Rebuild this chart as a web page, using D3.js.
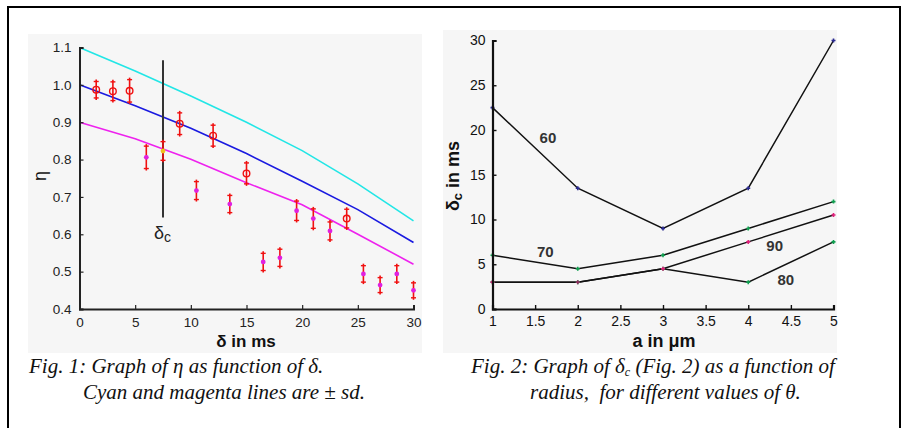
<!DOCTYPE html>
<html>
<head>
<meta charset="utf-8">
<script src="https://cdn.jsdelivr.net/npm/d3@7"></script>
<style>
  body { margin: 0; background: #fff; }
  svg text { font-family: "Liberation Sans", Arial, sans-serif; }
  .cap { font-family: "Liberation Serif", "Times New Roman", serif; font-style: italic; font-size: 21px; fill: #111; }
</style>
</head>
<body>
<div id="chart"></div>
<script>
// fig 1: eta vs delta
var lineDelta = [0, 5, 10, 15, 20, 25, 30];
var upperSd = [1.1, 1.037, 0.970, 0.900, 0.824, 0.735, 0.636];
var meanEta = [1.0, 0.944, 0.884, 0.816, 0.742, 0.666, 0.578];
var lowerSd = [0.9, 0.856, 0.801, 0.738, 0.679, 0.600, 0.52];

var pointDelta = [1.5, 3, 4.5, 6, 7.5, 9, 10.5, 12, 13.5, 15, 16.5, 18, 19.5, 21, 22.5, 24, 25.5, 27, 28.5, 30];
var pointEta = [0.987, 0.983, 0.984, 0.806, 0.823, 0.896, 0.717, 0.864, 0.681, 0.763, 0.526, 0.537, 0.663, 0.642, 0.609, 0.642, 0.494, 0.464, 0.494, 0.45];
var pointErr = [0.022, 0.025, 0.03, 0.03, 0.025, 0.029, 0.024, 0.028, 0.023, 0.028, 0.023, 0.023, 0.026, 0.026, 0.024, 0.025, 0.022, 0.02, 0.022, 0.02];
var pointKind = ['o', 'o', 'o', 'f', 'y', 'o', 'f', 'o', 'f', 'o', 'f', 'f', 'f', 'f', 'f', 'o', 'f', 'f', 'f', 'f'];
var deltaC = 7.5;
var deltaTicks = [0, 5, 10, 15, 20, 25, 30];
var etaTicks = [0.4, 0.5, 0.6, 0.7, 0.8, 0.9, 1.0, 1.1];

// fig 2: delta_c vs radius for theta
var radius = [1, 2, 3, 4, 5];
var theta60 = [22.5, 13.5, 9, 13.5, 30];
var theta70 = [6, 4.5, 6, 9, 12];
var theta80 = [3, 3, 4.5, 3, 7.5];
var theta90 = [3, 3, 4.5, 7.5, 10.5];
var thetaNames = ['60', '70', '80', '90'];
var radiusTicks = [1, 1.5, 2, 2.5, 3, 3.5, 4, 4.5, 5];
var dcTicks = [0, 5, 10, 15, 20, 25, 30];

var W = 903, H = 428;
var svg = d3.select('#chart').append('svg')
    .attr('width', W)
    .attr('height', H);

svg.append('rect')
    .attr('x', 8).attr('y', 7)
    .attr('width', 892).attr('height', 440)
    .attr('fill', 'none')
    .attr('stroke', '#000')
    .attr('stroke-width', 2);

// ---------- left panel ----------
svg.append('rect')
    .attr('x', 28).attr('y', 34)
    .attr('width', 394).attr('height', 319)
    .attr('fill', '#f6f6f6');

var x1 = d3.scaleLinear().domain([0, 30]).range([79.5, 413.5]);
var y1 = d3.scaleLinear().domain([0.4, 1.1]).range([309, 47.5]);

var g1 = svg.append('g');

var lineGen = d3.line()
    .x(function(d) { return x1(d[0]); })
    .y(function(d) { return y1(d[1]); });

[[upperSd, '#22e6e6'], [meanEta, '#1a1ae0'], [lowerSd, '#ee22ee']].forEach(function(s) {
    g1.append('path')
        .datum(lineDelta.map(function(d, i) { return [d, s[0][i]]; }))
        .attr('d', lineGen)
        .attr('fill', 'none')
        .attr('stroke', s[1])
        .attr('stroke-width', 1.6);
});

// delta_c marker
g1.append('line')
    .attr('x1', x1(deltaC)).attr('x2', x1(deltaC))
    .attr('y1', y1(1.066)).attr('y2', y1(0.645))
    .attr('stroke', '#333')
    .attr('stroke-width', 2);
var dcLabel = g1.append('text')
    .attr('x', x1(deltaC) - 9)
    .attr('y', 239)
    .attr('font-size', 18)
    .attr('fill', '#222');
dcLabel.append('tspan').text('δ');
dcLabel.append('tspan').attr('font-size', 14).attr('dy', 3).text('c');

var pts = pointDelta.map(function(d, i) {
    return { x: d, y: pointEta[i], e: pointErr[i], k: pointKind[i] };
});

var bars = g1.selectAll('g.pt')
    .data(pts)
    .enter()
    .append('g')
    .attr('class', 'pt');

bars.append('line')
    .attr('x1', function(d) { return x1(d.x); })
    .attr('x2', function(d) { return x1(d.x); })
    .attr('y1', function(d) { return y1(d.y + d.e) - 2; })
    .attr('y2', function(d) { return y1(d.y - d.e) + 2; })
    .attr('stroke', '#f01010')
    .attr('stroke-width', 1.6);
[1, -1].forEach(function(sgn) {
    bars.append('line')
        .attr('x1', function(d) { return x1(d.x) - 2.5; })
        .attr('x2', function(d) { return x1(d.x) + 2.5; })
        .attr('y1', function(d) { return y1(d.y + sgn * d.e); })
        .attr('y2', function(d) { return y1(d.y + sgn * d.e); })
        .attr('stroke', '#f01010')
        .attr('stroke-width', 1.4);
});
bars.filter(function(d) { return d.k == 'o'; })
    .append('circle')
    .attr('cx', function(d) { return x1(d.x); })
    .attr('cy', function(d) { return y1(d.y); })
    .attr('r', 3.3)
    .attr('fill', 'none')
    .attr('stroke', '#f01010')
    .attr('stroke-width', 1.4);
bars.filter(function(d) { return d.k != 'o'; })
    .append('circle')
    .attr('cx', function(d) { return x1(d.x); })
    .attr('cy', function(d) { return y1(d.y); })
    .attr('r', 2.4)
    .attr('fill', function(d) { return d.k == 'y' ? '#f0c020' : '#e020e0'; });

// axes
var ax1 = d3.axisBottom(x1).tickValues(deltaTicks).tickSize(-4).tickPadding(8);
var ay1 = d3.axisLeft(y1).tickValues(etaTicks).tickSize(-4).tickPadding(8).tickFormat(d3.format('.1f'));
[g1.append('g').attr('transform', 'translate(0,309)').call(ax1),
 g1.append('g').attr('transform', 'translate(79.5,0)').call(ay1)].forEach(function(a) {
    a.select('.domain').attr('stroke', '#222').attr('stroke-width', 2);
    a.selectAll('.tick line').attr('stroke', '#222').attr('stroke-width', 1.2);
    a.selectAll('.tick text').attr('font-size', 13.5).attr('fill', '#222')
        .attr('font-family', '"Liberation Sans", Arial, sans-serif');
});

g1.append('text')
    .attr('x', 246).attr('y', 347)
    .attr('text-anchor', 'middle')
    .attr('font-size', 17)
    .attr('font-weight', 'bold')
    .attr('fill', '#111')
    .text('δ in ms');
g1.append('text')
    .attr('transform', 'translate(46,176) rotate(-90)')
    .attr('text-anchor', 'middle')
    .attr('font-size', 18)
    .attr('fill', '#111')
    .text('η');

// ---------- right panel ----------
svg.append('rect')
    .attr('x', 443).attr('y', 30)
    .attr('width', 394).attr('height', 323)
    .attr('fill', '#f6f6f6');

var x2 = d3.scaleLinear().domain([1, 5]).range([492.5, 833.5]);
var y2 = d3.scaleLinear().domain([0, 30]).range([309, 40.5]);
var g2 = svg.append('g');

var lineGen2 = d3.line()
    .x(function(d) { return x2(d[0]); })
    .y(function(d) { return y2(d[1]); });

var series = [
    { vals: theta60, mark: ['#2a2a90', '#2a2a90', '#2a2a90', '#2a2a90', '#2a2a90'], label: thetaNames[0], lx: 1.65, ly: 19.1 },
    { vals: theta70, mark: ['#10a050', '#10a050', '#10a050', '#10a050', '#10a050'], label: thetaNames[1], lx: 1.62, ly: 6.4 },
    { vals: theta80, mark: ['#10a050', '#10a050', '#10a050', '#10a050', '#10a050'], label: thetaNames[2], lx: 4.44, ly: 3.25 },
    { vals: theta90, mark: ['#e0207a', '#903060', '#e0207a', '#e0207a', '#e0207a'], label: thetaNames[3], lx: 4.31, ly: 7.0 }
];

series.forEach(function(s) {
    g2.append('path')
        .datum(radius.map(function(r, i) { return [r, s.vals[i]]; }))
        .attr('d', lineGen2)
        .attr('fill', 'none')
        .attr('stroke', '#111')
        .attr('stroke-width', 1.5);
});
series.forEach(function(s) {
    g2.selectAll(null)
        .data(radius.map(function(r, i) { return { r: r, v: s.vals[i], c: s.mark[i] }; }))
        .enter()
        .append('path')
        .attr('d', 'M-2,0H2M0,-2V2')
        .attr('transform', function(d) { return 'translate(' + x2(d.r) + ',' + y2(d.v) + ')'; })
        .attr('stroke', function(d) { return d.c; })
        .attr('stroke-width', 1.6);
    g2.append('text')
        .attr('x', x2(s.lx)).attr('y', y2(s.ly) + 5)
        .attr('text-anchor', 'middle')
        .attr('font-size', 15)
        .attr('font-weight', 'bold')
        .attr('fill', '#333')
        .text(s.label);
});

var ax2 = d3.axisBottom(x2).tickValues(radiusTicks).tickSize(-4).tickPadding(7).tickFormat(d3.format('~g'));
var ay2 = d3.axisLeft(y2).tickValues(dcTicks).tickSize(-4).tickPadding(7);
[g2.append('g').attr('transform', 'translate(0,309)').call(ax2),
 g2.append('g').attr('transform', 'translate(492.5,0)').call(ay2)].forEach(function(a) {
    a.select('.domain').attr('stroke', '#111').attr('stroke-width', 2.2);
    a.selectAll('.tick line').attr('stroke', '#111').attr('stroke-width', 1.4);
    a.selectAll('.tick text').attr('font-size', 14).attr('fill', '#111')
        .attr('font-family', '"Liberation Sans", Arial, sans-serif');
});

g2.append('text')
    .attr('x', 664).attr('y', 347)
    .attr('text-anchor', 'middle')
    .attr('font-size', 18)
    .attr('font-weight', 'bold')
    .attr('fill', '#111')
    .text('a in μm');
var yt2 = g2.append('text')
    .attr('transform', 'translate(459,176) rotate(-90)')
    .attr('text-anchor', 'middle')
    .attr('font-size', 18)
    .attr('font-weight', 'bold')
    .attr('fill', '#111');
yt2.append('tspan').text('δ');
yt2.append('tspan').attr('font-size', 13).attr('dy', 3).text('c');
yt2.append('tspan').attr('dy', -3).text(' in ms');

// ---------- captions ----------
svg.append('text').attr('class', 'cap').attr('x', 29).attr('y', 373)
    .text('Fig. 1: Graph of η as function of δ.');
svg.append('text').attr('class', 'cap').attr('x', 83).attr('y', 399)
    .text('Cyan and magenta lines are ± sd.');
var c3 = svg.append('text').attr('class', 'cap').attr('x', 471).attr('y', 373);
c3.append('tspan').text('Fig. 2: Graph of δ');
c3.append('tspan').attr('font-size', 12).attr('dy', 3).text('c');
c3.append('tspan').attr('dy', -3).text(' (Fig. 2) as a function of');
svg.append('text').attr('class', 'cap').attr('x', 530).attr('y', 399)
    .text('radius,  for different values of θ.')
    .style('white-space', 'pre');
</script>
</body>
</html>
